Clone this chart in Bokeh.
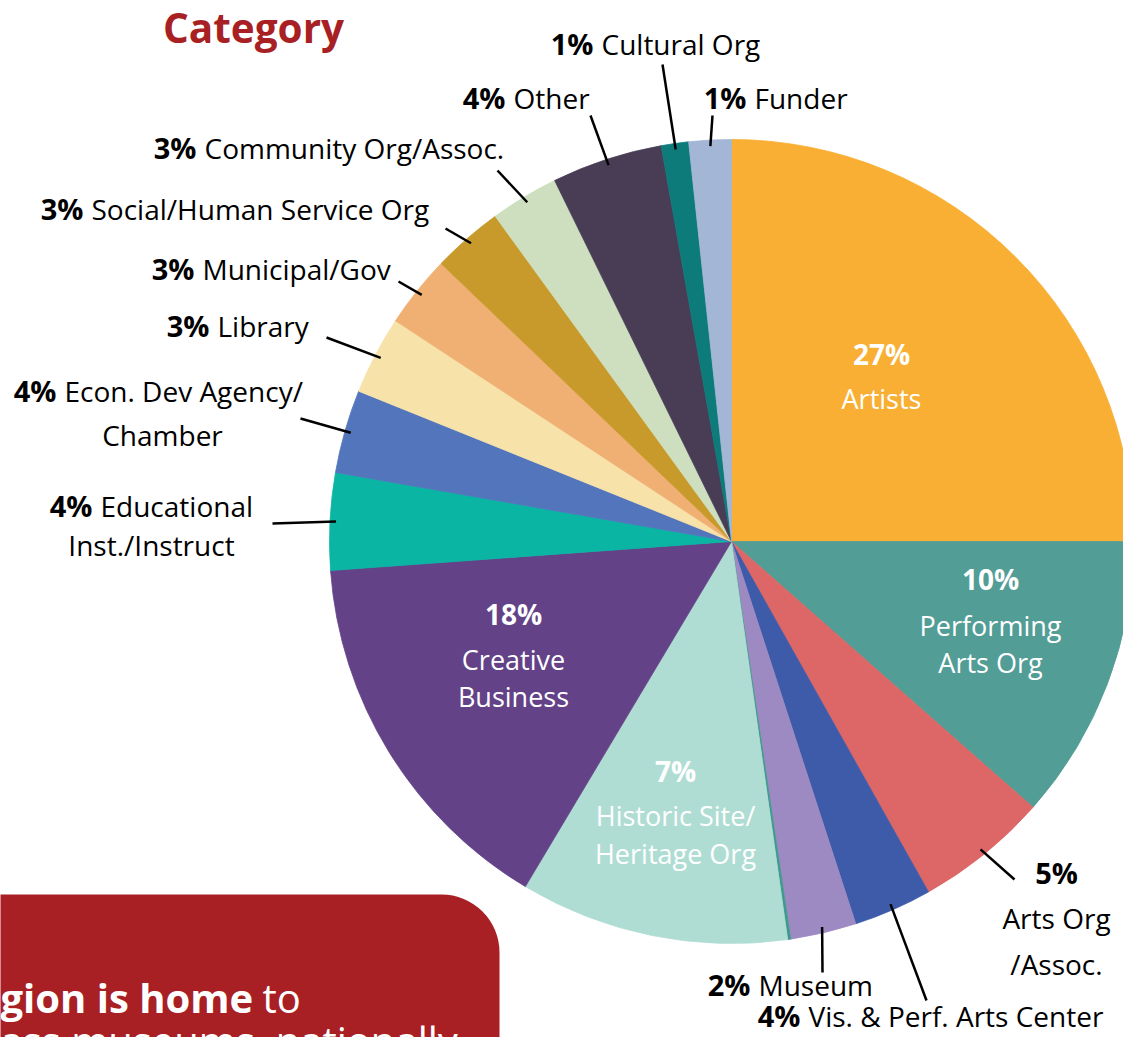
import math
from bokeh.plotting import figure
from bokeh.models import Range1d, ColumnDataSource
from bokeh.core.properties import value
from bokeh.embed import file_html
from bokeh.resources import INLINE

# ---------------- data ----------------
categories = ["Artists", "Performing Arts Org", "Arts Org/Assoc.", "Vis. & Perf. Arts Center",
              "Museum", "(unlabelled)", "Historic Site/Heritage Org", "Creative Business",
              "Educational Inst./Instruct", "Econ. Dev Agency/Chamber", "Library", "Municipal/Gov",
              "Social/Human Service Org", "Community Org/Assoc.", "Other", "Cultural Org", "Funder"]
# share of the circle as drawn (percent)
shares = [25.0, 11.5, 5.35, 3.15, 2.65, 0.12, 10.8, 15.28, 3.9, 3.35, 3.15, 2.9, 2.85, 2.75, 4.45, 1.1, 1.7]
# printed labels
pct_labels = ["27%", "10%", "5%", "4%", "2%", "", "7%", "18%", "4%", "4%", "3%", "3%", "3%", "3%", "4%", "1%", "1%"]
display_names = ["Artists", "Performing\nArts Org", "Arts Org\n/Assoc.", "Vis. & Perf. Arts Center",
                 "Museum", "", "Historic Site/\nHeritage Org", "Creative\nBusiness",
                 "Educational\nInst./Instruct", "Econ. Dev Agency/\nChamber", "Library", "Municipal/Gov",
                 "Social/Human Service Org", "Community Org/Assoc.", "Other", "Cultural Org", "Funder"]
colors = ["#F9AF33", "#529D96", "#DD6766", "#3E5BA9", "#9E8AC2", "#3F9A8E", "#B0DDD3", "#634288",
          "#0AB5A3", "#5375BC", "#F7E2A9", "#F0B073", "#C89A2C", "#CDDFBE", "#483D55", "#0E7B7B", "#A4B6D6"]
title_text = "Category"
box_line1_bold = "gion is home"
box_line1_rest = "to"
box_line2 = "ass museums, nationally"

# ---------------- layout ----------------
FONT = "Open Sans"
W, H = 1123, 1037
def Y(py):
    return H - py

CX, CY, R = 731, Y(541), 402
RED = "#A81F24"

p = figure(width=W, height=H, x_range=Range1d(0, W), y_range=Range1d(0, H),
           output_backend="svg", toolbar_location=None, min_border=0)
p.axis.visible = False
p.grid.visible = False
p.outline_line_color = None
p.background_fill_color = "white"
p.border_fill_color = "white"

total = sum(shares)
cum = [0.0]
for s in shares:
    cum.append(cum[-1] + s / total)
starts, ends, mids = [], [], []
for i in range(len(shares)):
    a0 = math.radians(90 - cum[i + 1] * 360)
    a1 = math.radians(90 - cum[i] * 360)
    starts.append(a0)
    ends.append(a1)
    mids.append((a0 + a1) / 2)

src = ColumnDataSource(dict(start=starts, end=ends, color=colors, cat=categories))
p.wedge(x=CX, y=CY, radius=R, start_angle="start", end_angle="end", direction="anticlock",
        fill_color="color", line_color="color", line_width=0.8, source=src)

# red callout box (bottom-left)
BOX_DY = -6
p.quad(left=[-60], right=[499], top=[Y(900 + BOX_DY)], bottom=[Y(1120)], fill_color=RED, line_color=None,
       border_radius=(0, 58, 0, 0))

def txt(x, py, s, bold=False, size=28, color="black", align="left"):
    p.text(x=[x], y=[Y(py)], text=[s], text_font=value(FONT), text_font_size=f"{size}px",
           text_font_style="bold" if bold else "normal", text_color=color,
           text_align=align, text_baseline="middle")

# title
txt(253, 27, title_text, bold=True, size=40.5, color=RED, align="center")

NAME_IN, PCT_IN, NAME_OUT, PCT_OUT = 27, 28, 28, 29

# inside labels: index -> (center x, [y of pct, y of name lines...])
inside = {0: (881, [353, 398]), 1: (990, [578, 625, 662]), 7: (513, [613, 659, 696]),
          6: (675, [770, 815, 853])}
for i, (x, ys) in inside.items():
    txt(x, ys[0], pct_labels[i], bold=True, size=PCT_IN, color="white", align="center")
    for line, yy in zip(display_names[i].split("\n"), ys[1:]):
        txt(x, yy, line, size=NAME_IN, color="white", align="center")

# stacked outside label
stacked = {2: (1056, [872, 917, 963])}
for i, (x, ys) in stacked.items():
    txt(x, ys[0], pct_labels[i], bold=True, size=PCT_OUT, align="center")
    for line, yy in zip(display_names[i].split("\n"), ys[1:]):
        txt(x, yy, line, size=NAME_OUT, align="center")

# inline outside labels: index -> (name left x, y, [(centre x, y) for extra lines])
inline = {15: (601, 43, []), 14: (513, 97, []), 16: (754, 97, []), 13: (204, 147, []),
          12: (91, 208, []), 11: (202, 268, []), 10: (217, 325, []),
          9: (64, 390, [(162, 434)]), 8: (100, 505, [(151, 544)]),
          4: (758, 984, []), 3: (808, 1015, [])}
for i, (x, yy, extra) in inline.items():
    lines = display_names[i].split("\n")
    txt(x - 8, yy, pct_labels[i], bold=True, size=PCT_OUT, align="right")
    txt(x, yy, lines[0], size=NAME_OUT, align="left")
    for line, (ex, ey) in zip(lines[1:], extra):
        txt(ex, ey, line, size=NAME_OUT, align="center")

# leader lines: from slice edge (mid-angle) to label
leader_ends = {2: (1014, 879), 3: (926, 1000), 4: (822, 972), 8: (272, 523), 9: (300, 418),
               10: (326, 337), 11: (398, 281), 12: (445, 228), 13: (497, 170), 14: (590, 115),
               15: (662, 64), 16: (712, 115)}
xs, ys = [], []
for i, (ex, ey) in leader_ends.items():
    rin = R * 0.985
    xs.append([CX + rin * math.cos(mids[i]), ex])
    ys.append([CY + rin * math.sin(mids[i]), Y(ey)])
p.multi_line(xs=xs, ys=ys, line_color="black", line_width=2.5)

# callout box text
txt(0, 1003 + BOX_DY, box_line1_bold, bold=True, size=40, color="white")
txt(262, 1003 + BOX_DY, box_line1_rest, size=40, color="white")
txt(0, 1046 + BOX_DY, box_line2, size=40, color="white")

open("out.html", "w").write(file_html(p, INLINE))
